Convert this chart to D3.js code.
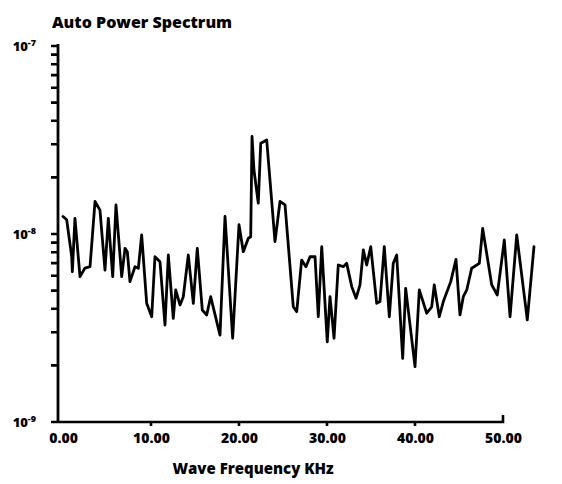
<!DOCTYPE html>
<html><head><meta charset="utf-8">
<script src="https://cdn.jsdelivr.net/npm/d3@7"></script>
<style>
body{margin:0;background:#fff;}
svg{display:block;}
text{font-family:"Open Sans","Noto Sans",sans-serif;font-weight:800;fill:#000;}
</style></head><body>
<svg id="c" width="562" height="484"></svg>
<script>
const title = "Auto Power Spectrum";
const xLabel = "Wave Frequency KHz";
const xTicks = [0, 10, 20, 30, 40, 50];
const yMajorExponents = [-7, -8, -9];
const yMinorMultipliers = [1, 2, 3, 4, 5, 6, 7, 8, 9];
const frequency = [0,0.42,0.99,1.06,1.36,1.93,2.5,3.07,3.64,4.2,4.77,5.15,5.42,5.65,6.02,6.67,7.05,7.31,7.61,8.18,8.56,8.94,9.51,10.08,10.45,11.02,11.59,11.97,12.53,12.81,13.3,13.67,14.24,14.81,15.26,15.83,16.33,16.78,17.84,18.41,19.28,20.0,20.49,21.06,21.33,21.48,21.7,22.19,22.47,23.15,24.09,24.66,25.23,26.17,26.56,27.12,27.61,28.07,28.64,29.01,29.4,30.03,30.34,30.8,31.28,31.85,32.24,32.81,33.3,33.75,34.13,34.51,34.97,35.65,36.02,36.51,37.08,37.53,37.92,38.6,38.94,40.0,40.49,41.33,41.9,42.19,42.76,43.22,44.06,44.66,45.11,45.49,45.88,46.44,47.31,47.69,48.72,49.35,50.15,50.8,51.56,52.76,53.52];
const power = [1.24e-8,1.19e-8,7.57e-9,6.30e-9,1.21e-8,5.93e-9,6.59e-9,6.70e-9,1.49e-8,1.34e-8,6.43e-9,1.21e-8,8.22e-9,5.93e-9,1.43e-8,5.93e-9,8.39e-9,8.05e-9,5.58e-9,6.70e-9,6.57e-9,9.88e-9,4.28e-9,3.63e-9,7.57e-9,7.12e-9,3.28e-9,7.73e-9,3.56e-9,5.04e-9,4.19e-9,4.64e-9,7.73e-9,4.28e-9,8.39e-9,3.94e-9,3.71e-9,4.64e-9,2.90e-9,1.24e-8,2.79e-9,1.12e-8,8.05e-9,9.49e-9,9.67e-9,3.30e-8,2.19e-8,1.46e-8,3.04e-8,3.16e-8,9.10e-9,1.49e-8,1.43e-8,4.10e-9,3.86e-9,7.27e-9,6.70e-9,7.57e-9,7.57e-9,3.63e-9,8.56e-9,2.67e-9,4.64e-9,2.79e-9,6.84e-9,6.70e-9,6.98e-9,5.25e-9,4.55e-9,5.36e-9,8.22e-9,6.84e-9,8.56e-9,4.28e-9,4.37e-9,8.56e-9,3.63e-9,6.98e-9,7.73e-9,2.18e-9,5.14e-9,1.97e-9,5.04e-9,3.79e-9,4.10e-9,5.36e-9,3.63e-9,4.37e-9,5.58e-9,7.33e-9,3.71e-9,4.64e-9,5.04e-9,6.57e-9,6.98e-9,1.07e-8,5.36e-9,4.74e-9,9.29e-9,3.63e-9,9.88e-9,3.49e-9,8.56e-9];

const svg = d3.select("#c");
const x = d3.scaleLinear().domain([0, 50]).range([63, 503]);
const y = d3.scaleLog().domain([1e-9, 1e-7]).range([422, 46]);
const axisX = 58, axisY = 422;

// y ticks (log minor + major)
const yTickVals = [];
[-9, -8].forEach(e => yMinorMultipliers.forEach(m => yTickVals.push(m * Math.pow(10, e))));
yTickVals.push(1e-7);
const tickPath = yTickVals.map(v => `M${axisX - 7},${y(v).toFixed(1)}H${axisX}`).join("");
svg.append("path").attr("d", tickPath).attr("fill", "none")
  .attr("stroke", "#000").attr("stroke-width", 2.6);
svg.append("path").attr("d", `M${axisX},${y(1e-7) - 2}V${axisY + 1}`)
  .attr("fill", "none").attr("stroke", "#000").attr("stroke-width", 2.8);

// x axis
const xTickPath = xTicks.filter(d => d > 0 && d < 50).map(d => `M${x(d)},${axisY}v4`).join("");
svg.append("path")
  .attr("d", `M${axisX},${axisY}H${x(50)}V${axisY - 7}` + xTickPath)
  .attr("fill", "none").attr("stroke", "#000").attr("stroke-width", 2.6);
const gx = svg.append("g").attr("transform", `translate(0,${axisY})`)
  .call(d3.axisBottom(x).tickValues(xTicks).tickSize(0).tickSizeOuter(0).tickFormat(d => d3.format(".2f")(d)));
gx.select(".domain").remove();
gx.selectAll("line").remove();
gx.selectAll("text").attr("font-size", 14).attr("dy", "1.3em")
  .style("font-family", '"Open Sans",sans-serif').style("font-weight", 800);

// y labels
yMajorExponents.forEach(e => {
  const t = svg.append("text").attr("x", 36).attr("y", y(Math.pow(10, e)) + 5)
    .attr("text-anchor", "end").attr("font-size", 13);
  t.append("tspan").text("10");
  t.append("tspan").attr("dy", -5).attr("font-size", 9).text("-" + (-e));
});

// line
const data = frequency.map((f, i) => ({ f, p: power[i] }));
svg.append("path").datum(data)
  .attr("fill", "none").attr("stroke", "#000").attr("stroke-width", 2.8)
  .attr("stroke-linejoin", "round").attr("stroke-linecap", "round")
  .attr("d", d3.line().x(d => x(d.f)).y(d => y(d.p)));

// title and x label
svg.append("text").attr("x", 52).attr("y", 28).attr("font-size", 16).text(title);
svg.append("text").attr("x", 253).attr("y", 474).attr("text-anchor", "middle").attr("font-size", 15).text(xLabel);
</script>
</body></html>
